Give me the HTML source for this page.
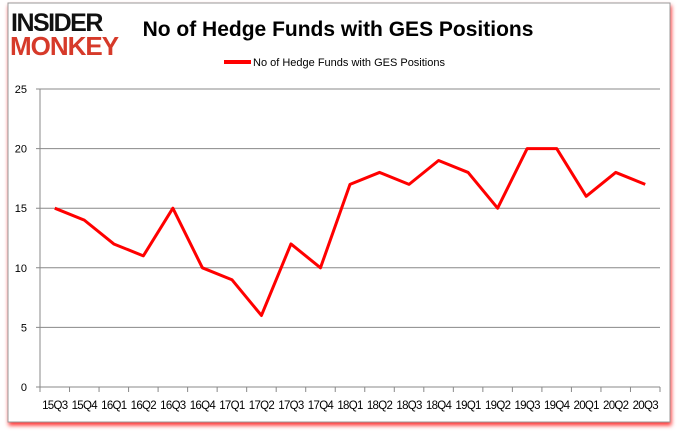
<!DOCTYPE html>
<html><head><meta charset="utf-8"><style>
body{margin:0;background:#fff;width:678px;height:431px;overflow:hidden;font-family:"Liberation Sans",sans-serif}
</style></head><body>
<svg width="678" height="431">
<rect x="8" y="3" width="662" height="419" fill="#fff" stroke="#999" style="filter:drop-shadow(1px 3px 2px rgba(255,0,0,0.8))"/>
<g font-family="Liberation Sans" font-weight="bold">
<text x="11" y="31" font-size="25" fill="#111" letter-spacing="-1.5">INSIDER</text>
<text x="10" y="55" font-size="26" fill="#d63a2a" letter-spacing="-1">MONKEY</text>
</g>
<text x="338" y="36" font-size="21" font-weight="bold" text-anchor="middle" fill="#000">No of Hedge Funds with GES Positions</text>
<line x1="224" y1="62" x2="251" y2="62" stroke="#f00" stroke-width="4"/>
<text x="253" y="66" font-size="11" fill="#000">No of Hedge Funds with GES Positions</text>
<g id="grid"></g><g id="axes"></g>
<polyline id="line" fill="none" stroke="#f00" stroke-width="3" stroke-linejoin="round"/>
</svg>
<script>
const categories=["15Q3","15Q4","16Q1","16Q2","16Q3","16Q4","17Q1","17Q2","17Q3","17Q4","18Q1","18Q2","18Q3","18Q4","19Q1","19Q2","19Q3","19Q4","20Q1","20Q2","20Q3"];
const values=[15,14,12,11,15,10,9,6,12,10,17,18,17,19,18,15,20,20,16,18,17];
const yTicks=[0,5,10,15,20,25];
const x0=40,x1=660,y0=387,y1=89,ymax=25;
const bw=(x1-x0)/categories.length;
const xs=i=>x0+bw*(i+0.5);
const ys=v=>y0-(v/ymax)*(y0-y1);
const NS="http://www.w3.org/2000/svg";
const grid=document.getElementById('grid'),axes=document.getElementById('axes');
function mk(tag,attrs,parent,text){const e=document.createElementNS(NS,tag);for(const k in attrs)e.setAttribute(k,attrs[k]);if(text!==undefined)e.textContent=text;parent.appendChild(e);return e;}
yTicks.forEach(t=>{
 const g=mk('line',{x1:x0-4,x2:x1,y1:ys(t),y2:ys(t),stroke:'#888','stroke-width':1},grid);
 
 
 const l=mk('text',{x:27,y:ys(t)+4,'font-size':11,'text-anchor':'end',fill:'#000'},axes,String(t));
 
 
});
const ax=mk('line',{x1:x0,x2:x0,y1:y1,y2:y0,stroke:'#888'},axes);


for(let i=0;i<=categories.length;i++){
 const tk=mk('line',{x1:x0+bw*i,x2:x0+bw*i,y1:y0,y2:y0+5,stroke:'#888'},axes);
 
 
}
categories.forEach((c,i)=>{
 const t=mk('text',{x:xs(i),y:409,'font-size':11.5,'text-anchor':'middle',fill:'#000','letter-spacing':'-0.7'},axes,c);
 
 
});
document.getElementById('line').setAttribute('points',values.map((v,i)=>xs(i)+','+ys(v)).join(' '));
</script>
</body></html>
